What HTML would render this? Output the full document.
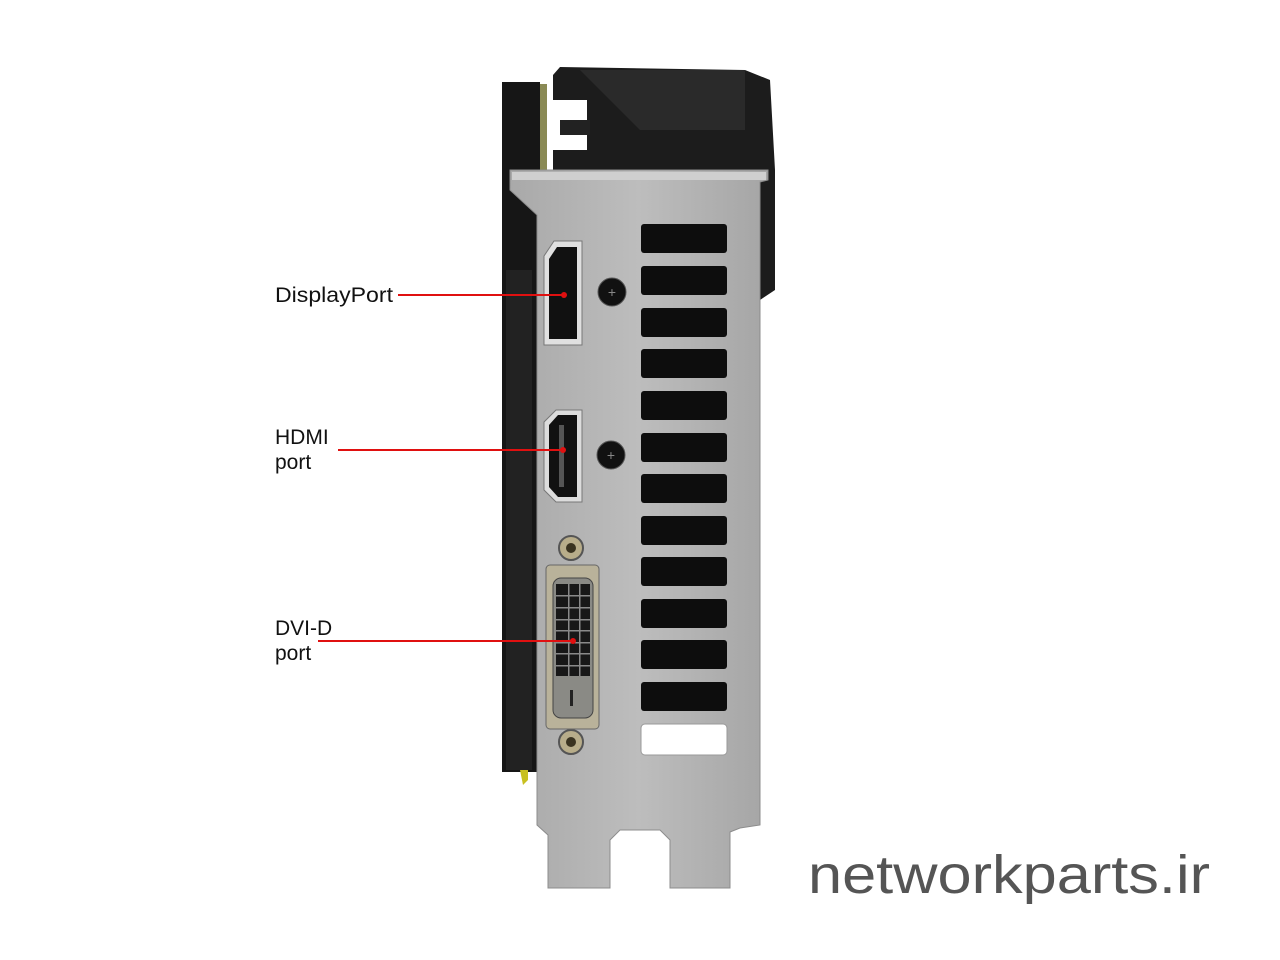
<!DOCTYPE html>
<html><head><meta charset="utf-8"><style>
html,body{margin:0;padding:0;background:#fff;width:1280px;height:960px;overflow:hidden}
svg{display:block}
text{font-family:"Liberation Sans",sans-serif}
</style></head><body>
<svg width="1280" height="960" viewBox="0 0 1280 960" xmlns="http://www.w3.org/2000/svg">
<defs>
<linearGradient id="metal" x1="0" y1="0" x2="1" y2="0">
<stop offset="0" stop-color="#a9a9a9"/><stop offset="0.5" stop-color="#bdbdbd"/><stop offset="1" stop-color="#a5a5a5"/>
</linearGradient>
</defs>
<polygon points="553,75 560,67 745,70 770,80 775,170 775,290 760,300 760,170 553,170" fill="#1c1c1c"/>
<polygon points="580,70 745,70 745,130 640,130" fill="#2a2a2a"/>
<rect x="535" y="84" width="12" height="90" fill="#8a8a55"/>
<rect x="547" y="100" width="40" height="50" fill="#fff"/>
<rect x="560" y="120" width="30" height="15" fill="#222"/>
<rect x="502" y="82" width="38" height="690" fill="#161616"/>
<rect x="506" y="270" width="26" height="500" fill="#222"/>
<polygon points="520,770 528,770 528,780 523,785" fill="#c8c020"/>
<path d="M510,170 L768,170 L768,180 L760,182 L760,825 L740,828 L730,832 L730,888 L670,888 L670,840 L660,830 L620,830 L610,840 L610,888 L548,888 L548,835 L537,825 L537,215 L510,190 Z" fill="url(#metal)" stroke="#8c8c8c" stroke-width="1"/>
<rect x="512" y="172" width="254" height="8" fill="#cfcfcf"/>
<g fill="#0d0d0d">
<rect x="641" y="224" width="86" height="29" rx="3"/>
<rect x="641" y="266" width="86" height="29" rx="3"/>
<rect x="641" y="308" width="86" height="29" rx="3"/>
<rect x="641" y="349" width="86" height="29" rx="3"/>
<rect x="641" y="391" width="86" height="29" rx="3"/>
<rect x="641" y="433" width="86" height="29" rx="3"/>
<rect x="641" y="474" width="86" height="29" rx="3"/>
<rect x="641" y="516" width="86" height="29" rx="3"/>
<rect x="641" y="557" width="86" height="29" rx="3"/>
<rect x="641" y="599" width="86" height="29" rx="3"/>
<rect x="641" y="640" width="86" height="29" rx="3"/>
<rect x="641" y="682" width="86" height="29" rx="3"/>
</g>
<rect x="641" y="724" width="86" height="31" rx="4" fill="#fff" stroke="#999"/>
<path d="M554,241 L582,241 L582,345 L544,345 L544,256 Z" fill="#e0e0e0" stroke="#777"/>
<path d="M557,247 L577,247 L577,339 L549,339 L549,259 Z" fill="#111"/>
<circle cx="612" cy="292" r="14" fill="#111" stroke="#555"/>
<text x="612" y="297" font-size="14" fill="#888" text-anchor="middle">+</text>
<path d="M556,410 L582,410 L582,502 L556,502 L544,490 L544,422 Z" fill="#dcdcdc" stroke="#777"/>
<path d="M558,415 L577,415 L577,497 L558,497 L549,487 L549,425 Z" fill="#111"/>
<rect x="559" y="425" width="5" height="62" fill="#555"/>
<circle cx="611" cy="455" r="14" fill="#111" stroke="#555"/>
<text x="611" y="460" font-size="14" fill="#888" text-anchor="middle">+</text>
<circle cx="571" cy="548" r="12" fill="#b8ad8a" stroke="#555" stroke-width="2"/>
<circle cx="571" cy="548" r="5" fill="#3a3320"/>
<circle cx="571" cy="742" r="12" fill="#b8ad8a" stroke="#555" stroke-width="2"/>
<circle cx="571" cy="742" r="5" fill="#3a3320"/>
<rect x="546" y="565" width="53" height="164" rx="4" fill="#b9b29a" stroke="#666"/>
<rect x="553" y="578" width="40" height="140" rx="8" fill="#8a8a85" stroke="#444"/>
<rect x="556" y="584" width="34" height="92" fill="#181818"/>
<g fill="#8a8a8a">
<rect x="568" y="584" width="1.5" height="92"/><rect x="579" y="584" width="1.5" height="92"/>
<rect x="556" y="595" width="34" height="1.5"/><rect x="556" y="607" width="34" height="1.5"/>
<rect x="556" y="619" width="34" height="1.5"/><rect x="556" y="630" width="34" height="1.5"/>
<rect x="556" y="642" width="34" height="1.5"/><rect x="556" y="653" width="34" height="1.5"/>
<rect x="556" y="665" width="34" height="1.5"/>
</g>
<rect x="570" y="690" width="3" height="16" fill="#222"/>
<g font-size="21" fill="#111">
<text x="275" y="302" textLength="118" lengthAdjust="spacingAndGlyphs">DisplayPort</text>
<text x="275" y="444">HDMI</text>
<text x="275" y="469">port</text>
<text x="275" y="635">DVI-D</text>
<text x="275" y="660">port</text>
</g>
<g stroke="#e01010" stroke-width="2">
<line x1="398" y1="295" x2="564" y2="295"/>
<line x1="338" y1="450" x2="563" y2="450"/>
<line x1="318" y1="641" x2="573" y2="641"/>
</g>
<g fill="#e01010">
<circle cx="564" cy="295" r="3"/><circle cx="563" cy="450" r="3"/><circle cx="573" cy="641" r="3"/>
</g>
<text x="808" y="893" font-size="54" fill="#555" textLength="402" lengthAdjust="spacingAndGlyphs">networkparts.ir</text>
</svg>
</body></html>
